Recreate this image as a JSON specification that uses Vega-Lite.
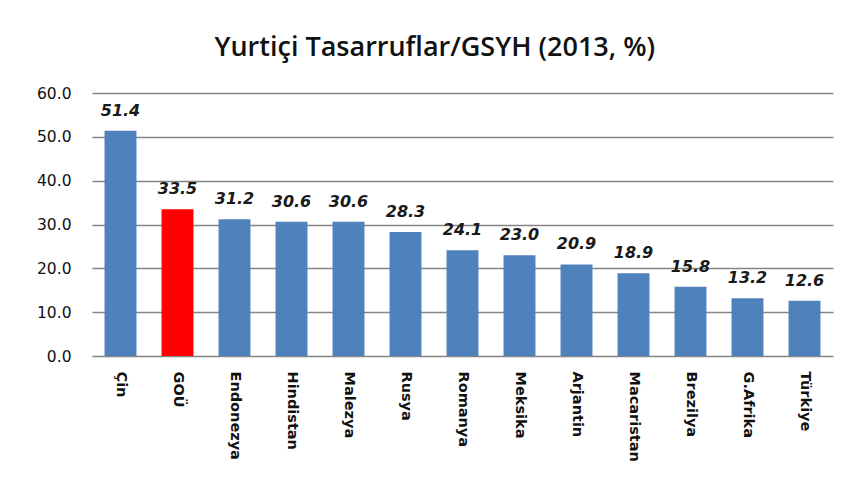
{
  "$schema": "https://vega.github.io/schema/vega-lite/v6.json",
  "width": 741,
  "height": 263,
  "padding": {"left": 36, "top": 34, "right": 10, "bottom": 5},
  "background": "white",
  "title": {
    "text": "Yurtiçi Tasarruflar/GSYH (2013, %)",
    "font": "Open Sans",
    "fontSize": 27,
    "fontWeight": 600,
    "color": "#111111",
    "anchor": "middle",
    "frame": "bounds",
    "offset": 24
  },
  "data": {
    "values": [
      {"ulke": "Çin", "deger": 51.4, "grup": "diger"},
      {"ulke": "GOÜ", "deger": 33.5, "grup": "GOÜ"},
      {"ulke": "Endonezya", "deger": 31.2, "grup": "diger"},
      {"ulke": "Hindistan", "deger": 30.6, "grup": "diger"},
      {"ulke": "Malezya", "deger": 30.6, "grup": "diger"},
      {"ulke": "Rusya", "deger": 28.3, "grup": "diger"},
      {"ulke": "Romanya", "deger": 24.1, "grup": "diger"},
      {"ulke": "Meksika", "deger": 23.0, "grup": "diger"},
      {"ulke": "Arjantin", "deger": 20.9, "grup": "diger"},
      {"ulke": "Macaristan", "deger": 18.9, "grup": "diger"},
      {"ulke": "Brezilya", "deger": 15.8, "grup": "diger"},
      {"ulke": "G.Afrika", "deger": 13.2, "grup": "diger"},
      {"ulke": "Türkiye", "deger": 12.6, "grup": "diger"}
    ]
  },
  "encoding": {
    "x": {
      "field": "ulke",
      "type": "nominal",
      "sort": null,
      "scale": {"paddingInner": 0.44, "paddingOuter": 0.22},
      "axis": {
        "title": null,
        "labelAngle": 90,
        "labelAlign": "left",
        "labelBaseline": "middle",
        "labelFont": "DejaVu Sans",
        "labelFontWeight": "bold",
        "labelFontSize": 14.5,
        "labelColor": "#111111",
        "labelPadding": 15,
        "ticks": false,
        "domain": false,
        "grid": false
      }
    },
    "y": {
      "field": "deger",
      "type": "quantitative",
      "scale": {"domain": [0, 60], "nice": false},
      "axis": {
        "title": null,
        "values": [0, 10, 20, 30, 40, 50, 60],
        "format": ".1f",
        "labelFont": "DejaVu Sans",
        "labelFontSize": 15.5,
        "labelColor": "#111111",
        "labelPadding": 21,
        "ticks": false,
        "domain": false,
        "grid": true,
        "gridColor": "#858585",
        "gridWidth": 1.6
      }
    }
  },
  "layer": [
    {
      "mark": {"type": "bar"},
      "encoding": {
        "color": {
          "field": "grup",
          "type": "nominal",
          "scale": {"domain": ["diger", "GOÜ"], "range": ["#4F81BD", "#FF0000"]},
          "legend": null
        }
      }
    },
    {
      "mark": {
        "type": "text",
        "font": "DejaVu Sans",
        "fontSize": 16,
        "fontWeight": "bold",
        "fontStyle": "italic",
        "color": "#1a1a1a",
        "baseline": "alphabetic",
        "dy": -15
      },
      "encoding": {
        "text": {"field": "deger", "type": "quantitative", "format": ".1f"}
      }
    }
  ],
  "config": {
    "view": {"stroke": null}
  }
}
